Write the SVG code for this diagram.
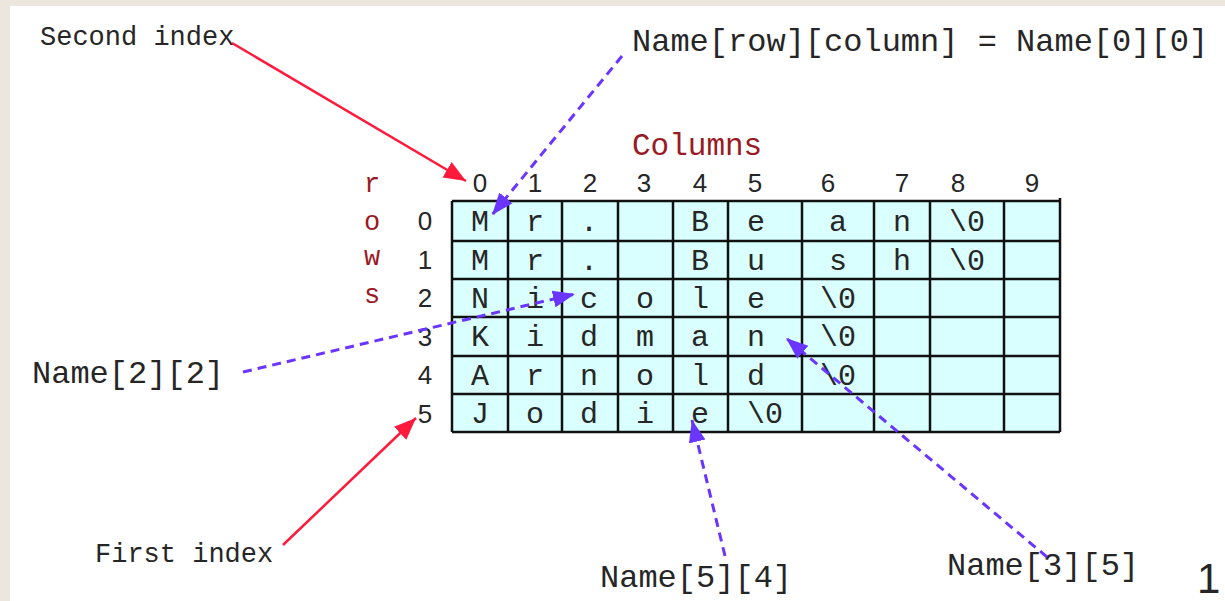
<svg xmlns="http://www.w3.org/2000/svg" width="1225" height="601" viewBox="0 0 1225 601">
  <style>
    .mono { font-family: "Liberation Mono", "Courier New", monospace; fill: #262626; }
    .sans { font-family: "Liberation Sans", Arial, sans-serif; fill: #262626; }
    .label { font-size: 32px; }
    .small { font-size: 27px; }
    .cell { font-size: 30px; text-anchor: middle; }
    .idx { font-size: 26px; text-anchor: middle; }
    .axis { fill: #9a1a24; }
    .grid line { stroke: #111; stroke-width: 2.5; }
    .red { stroke: #ff1a3c; stroke-width: 2.5; fill: none; }
    .blue { stroke: #6a35ff; stroke-width: 3; stroke-dasharray: 9 6; fill: none; }
  </style>
  <defs>
    <marker id="headRed" markerUnits="userSpaceOnUse" markerWidth="24" markerHeight="20" refX="22" refY="10" orient="auto">
      <path d="M0,1 L22,10 L0,19 z" fill="#ff1a3c"/>
    </marker>
    <marker id="headBlue" markerUnits="userSpaceOnUse" markerWidth="24" markerHeight="20" refX="22" refY="10" orient="auto">
      <path d="M0,1.5 L22,10 L0,18.5 z" fill="#6a35ff"/>
    </marker>
  </defs>

  <!-- page background with slide margin -->
  <rect x="0" y="0" width="1225" height="601" fill="#ffffff"/>
  <rect x="0" y="0" width="1225" height="6" fill="#ebe7df"/>
  <rect x="0" y="0" width="10" height="601" fill="#ebe7df"/>

  <!-- character table -->
  <g id="table">
    <rect x="452" y="201" width="608" height="231" fill="#d9ffff"/>
    <g class="grid">
      <line x1="452" y1="201" x2="1060" y2="201"/>
      <line x1="452" y1="241" x2="1060" y2="241"/>
      <line x1="452" y1="279" x2="1060" y2="279"/>
      <line x1="452" y1="317" x2="1060" y2="317"/>
      <line x1="452" y1="356" x2="1060" y2="356"/>
      <line x1="452" y1="394" x2="1060" y2="394"/>
      <line x1="452" y1="432" x2="1060" y2="432"/>
      <line x1="452" y1="201" x2="452" y2="432"/>
      <line x1="508" y1="201" x2="508" y2="432"/>
      <line x1="562" y1="201" x2="562" y2="432"/>
      <line x1="618" y1="201" x2="618" y2="432"/>
      <line x1="673" y1="201" x2="673" y2="432"/>
      <line x1="728" y1="201" x2="728" y2="432"/>
      <line x1="802" y1="201" x2="802" y2="432"/>
      <line x1="874" y1="201" x2="874" y2="432"/>
      <line x1="930" y1="201" x2="930" y2="432"/>
      <line x1="1004" y1="201" x2="1004" y2="432"/>
      <line x1="1060" y1="198" x2="1060" y2="432"/>
    </g>
    <g class="mono cell">
      <!-- row 0 -->
      <text x="480" y="231">M</text><text x="535" y="231">r</text><text x="589" y="231">.</text>
      <text x="700" y="231">B</text><text x="756" y="231">e</text><text x="838" y="231">a</text>
      <text x="902" y="231">n</text><text x="967" y="231">\0</text>
      <!-- row 1 -->
      <text x="480" y="270">M</text><text x="535" y="270">r</text><text x="589" y="270">.</text>
      <text x="700" y="270">B</text><text x="756" y="270">u</text><text x="838" y="270">s</text>
      <text x="902" y="270">h</text><text x="967" y="270">\0</text>
      <!-- row 2 -->
      <text x="480" y="308">N</text><text x="535" y="308">i</text><text x="589" y="308">c</text>
      <text x="645" y="308">o</text><text x="700" y="308">l</text><text x="756" y="308">e</text>
      <text x="838" y="308">\0</text>
      <!-- row 3 -->
      <text x="480" y="346">K</text><text x="535" y="346">i</text><text x="589" y="346">d</text>
      <text x="645" y="346">m</text><text x="700" y="346">a</text><text x="756" y="346">n</text>
      <text x="838" y="346">\0</text>
      <!-- row 4 -->
      <text x="480" y="385">A</text><text x="535" y="385">r</text><text x="589" y="385">n</text>
      <text x="645" y="385">o</text><text x="700" y="385">l</text><text x="756" y="385">d</text>
      <text x="838" y="385">\0</text>
      <!-- row 5 -->
      <text x="480" y="423">J</text><text x="535" y="423">o</text><text x="589" y="423">d</text>
      <text x="645" y="423">i</text><text x="700" y="423">e</text><text x="765" y="423">\0</text>
    </g>
  </g>

  <!-- column indices -->
  <g id="column-indices" class="sans idx">
    <text x="480" y="192">0</text><text x="535" y="192">1</text><text x="590" y="192">2</text>
    <text x="644" y="192">3</text><text x="700" y="192">4</text><text x="755" y="192">5</text>
    <text x="828" y="192">6</text><text x="902" y="192">7</text><text x="958" y="192">8</text>
    <text x="1032" y="192">9</text>
  </g>

  <!-- row indices -->
  <g id="row-indices" class="sans idx">
    <text x="425" y="230">0</text><text x="425" y="269">1</text><text x="425" y="307">2</text>
    <text x="425" y="346">3</text><text x="425" y="384">4</text><text x="425" y="423">5</text>
  </g>

  <!-- axis titles -->
  <g id="columns-title">
    <text class="mono axis" x="632" y="155" style="font-size:31px">Columns</text>
  </g>
  <g id="rows-title" class="mono axis" style="font-size:27px" text-anchor="middle">
    <text x="372" y="192">r</text>
    <text x="372" y="230">o</text>
    <text x="372" y="265">w</text>
    <text x="372" y="303">s</text>
  </g>

  <!-- callout labels -->
  <g id="second-index"><text class="mono small" x="40" y="45">Second index</text></g>
  <g id="first-index"><text class="mono small" x="95" y="562">First index</text></g>
  <g id="name-row-column"><text class="mono label" x="632" y="51">Name[row][column] = Name[0][0]</text></g>
  <g id="name-2-2"><text class="mono label" x="32" y="383">Name[2][2]</text></g>
  <g id="name-5-4"><text class="mono label" x="600" y="587">Name[5][4]</text></g>
  <g id="name-3-5"><text class="mono label" x="947" y="575">Name[3][5]</text></g>

  <!-- slide number -->
  <g id="page-number"><text class="sans" x="1197" y="593" style="font-size:42px">1</text></g>

  <!-- connectors -->
  <g id="connectors">
    <line class="red" x1="232" y1="43" x2="466" y2="181" marker-end="url(#headRed)"/>
    <line class="red" x1="283" y1="545" x2="416" y2="418" marker-end="url(#headRed)"/>
    <line class="blue" x1="622" y1="56" x2="492" y2="215" marker-end="url(#headBlue)"/>
    <line class="blue" x1="243" y1="372" x2="575" y2="294" marker-end="url(#headBlue)"/>
    <line class="blue" x1="725" y1="556" x2="692" y2="420" marker-end="url(#headBlue)"/>
    <line class="blue" x1="1047" y1="557" x2="786" y2="338" marker-end="url(#headBlue)"/>
  </g>
</svg>
